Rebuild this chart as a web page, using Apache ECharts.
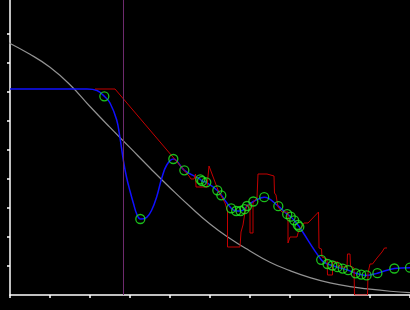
<!DOCTYPE html>
<html>
<head>
<meta charset="utf-8">
<script src="https://cdn.jsdelivr.net/npm/echarts@6/dist/echarts.min.js"></script>
<style>
  html, body { margin: 0; padding: 0; background: #000; }
  #chart { width: 410px; height: 310px; }
</style>
</head>
<body>
<div id="chart"></div>
<script>
// model curve (gray)
const grayX = [-0.25, 0.5, 1.0, 1.5, 2.0, 2.5, 3.0, 3.5, 4.0, 4.5, 5.0, 5.5, 6.0, 6.5, 7.0, 7.5, 8.0, 8.5, 9.0, 9.5, 10.0]
const grayY = [8.85, 8.3, 7.85, 7.25, 6.5, 5.78, 5.08, 4.38, 3.7, 3.05, 2.45, 1.95, 1.52, 1.13, 0.84, 0.6, 0.42, 0.29, 0.2, 0.13, 0.08]

// fitted spline (blue) before the first peak
const blueX = [0, 1.925, 2.175, 2.358, 2.5, 2.668, 2.75, 2.833, 2.918, 3.0, 3.083, 3.168, 3.258, 3.418, 3.543, 3.668, 3.793, 3.918]
const blueY = [7.103, 7.103, 7.052, 6.852, 6.621, 6.034, 5.414, 4.655, 4.034, 3.586, 3.172, 2.793, 2.621, 2.679, 2.931, 3.390, 4.024, 4.483]

// measured points (green circles)
const markerX = [2.358, 3.258, 4.083, 4.358, 4.758, 4.80, 4.908, 5.183, 5.283, 5.530, 5.655, 5.763, 5.863, 5.925, 6.083, 6.355, 6.708, 6.930, 7.018, 7.105, 7.195, 7.233, 7.780, 7.938, 8.058, 8.188, 8.318, 8.455, 8.640, 8.780, 8.915, 9.185, 9.608, 10.0]
const markerY = [6.852, 2.621, 4.690, 4.300, 3.990, 3.931, 3.886, 3.610, 3.438, 2.990, 2.897, 2.897, 2.959, 3.069, 3.224, 3.372, 3.062, 2.786, 2.700, 2.576, 2.414, 2.352, 1.214, 1.069, 1.017, 0.959, 0.910, 0.855, 0.748, 0.703, 0.676, 0.752, 0.914, 0.941]

// raw signal (red)
const redX = [2.125, 2.625, 4.475, 4.525, 4.6, 4.638, 4.65, 4.65, 4.925, 4.975, 5.2, 5.375, 5.4375, 5.4375, 5.75, 5.775, 5.825, 5.875, 5.925, 6.0, 6.0, 6.075, 6.075, 6.125, 6.175, 6.2, 6.425, 6.6, 6.6125, 6.65, 6.7, 6.8, 6.95, 6.95, 7.0, 7.175, 7.2, 7.25, 7.35, 7.45, 7.7125, 7.725, 7.7875, 7.8, 7.925, 7.9375, 8.0625, 8.0625, 8.2, 8.2125, 8.425, 8.4375, 8.5, 8.5125, 8.6, 8.6125, 8.9375, 8.95, 9.0, 9.0625, 9.175, 9.3, 9.3625, 9.425]
const redY = [7.103, 7.103, 4.103, 4.0, 4.0, 4.172, 4.172, 3.724, 3.724, 4.448, 3.621, 3.172, 2.897, 1.655, 1.655, 2.172, 2.414, 2.862, 3.103, 3.103, 2.138, 2.138, 3.172, 3.276, 3.345, 4.172, 4.172, 4.103, 3.517, 3.448, 3.034, 2.862, 2.862, 1.793, 2.0, 2.0, 2.138, 2.276, 2.483, 2.483, 2.862, 1.621, 1.586, 1.310, 1.241, 0.690, 0.690, 1.138, 1.138, 0.966, 0.966, 1.414, 1.414, 1.0, 0.931, 0, 0, 0.759, 1.069, 1.069, 1.276, 1.483, 1.621, 1.621]

const cursorX = 2.833

const zip = (xs, ys) => xs.map((x, i) => [x, ys[i]])

// blue line continues through the markers after the dip
const blueData = zip(blueX, blueY).concat(zip(markerX.slice(2), markerY.slice(2)))

const chart = echarts.init(document.getElementById('chart'))

const axisStyle = { lineStyle: { color: '#ffffff', width: 1.5 } }

chart.setOption({
  animation: false,
  backgroundColor: '#000000',
  grid: { left: 10, right: 0, top: 0, bottom: 15, containLabel: false },
  xAxis: {
    type: 'value',
    min: 0,
    max: 10,
    interval: 1,
    axisLine: axisStyle,
    axisTick: { show: true, length: 3, lineStyle: { color: '#ffffff', width: 1.5 } },
    axisLabel: { show: false },
    splitLine: { show: false }
  },
  yAxis: {
    type: 'value',
    min: 0,
    max: 295 / 29,
    interval: 1,
    axisLine: { show: true, ...axisStyle },
    axisTick: {
      show: true,
      length: 3,
      customValues: [1, 2, 3, 4, 5, 6, 7, 8, 9],
      lineStyle: { color: '#ffffff', width: 1.5 }
    },
    axisLabel: { show: false },
    splitLine: { show: false }
  },
  series: [
    {
      name: 'spline',
      type: 'line',
      data: blueData,
      smooth: 0.4,
      symbol: 'none',
      lineStyle: { color: '#1010ff', width: 1.5 },
      z: 2
    },
    {
      name: 'model',
      type: 'line',
      data: zip(grayX, grayY),
      smooth: true,
      clip: false,
      symbol: 'none',
      lineStyle: { color: '#939393', width: 1.2 },
      markLine: {
        silent: true,
        symbol: 'none',
        label: { show: false },
        lineStyle: { color: '#6e2a6e', type: 'solid', width: 1 },
        data: [{ xAxis: cursorX }]
      },
      z: 1
    },
    {
      name: 'raw',
      type: 'line',
      data: zip(redX, redY),
      symbol: 'none',
      lineStyle: { color: '#c40000', width: 1 },
      z: 3
    },
    {
      name: 'points',
      type: 'scatter',
      data: zip(markerX, markerY),
      symbol: 'circle',
      symbolSize: 9,
      itemStyle: { color: 'rgba(0,0,0,0)', borderColor: '#22ee22', borderWidth: 1.3 },
      z: 4
    }
  ]
})
</script>
</body>
</html>
